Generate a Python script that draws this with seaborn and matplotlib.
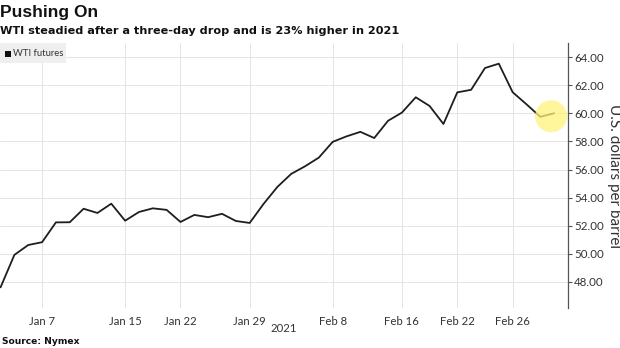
import matplotlib
matplotlib.use("Agg")
import matplotlib.pyplot as plt
import seaborn as sns
import pandas as pd
from matplotlib.patches import Circle, Rectangle

dates = ["Jan 4", "Jan 5", "Jan 6", "Jan 7", "Jan 8", "Jan 11", "Jan 12", "Jan 13", "Jan 14", "Jan 15",
         "Jan 19", "Jan 20", "Jan 21", "Jan 22", "Jan 25", "Jan 26", "Jan 27", "Jan 28", "Jan 29",
         "Feb 1", "Feb 2", "Feb 3", "Feb 4", "Feb 5", "Feb 8", "Feb 9", "Feb 10", "Feb 11", "Feb 12",
         "Feb 16", "Feb 17", "Feb 18", "Feb 19", "Feb 22", "Feb 23", "Feb 24", "Feb 25", "Feb 26",
         "Mar 1", "Mar 2", "Mar 3"]
wti = [47.62, 49.93, 50.63, 50.83, 52.24, 52.25, 53.21, 52.91, 53.57, 52.36,
       52.98, 53.24, 53.13, 52.27, 52.77, 52.61, 52.85, 52.34, 52.20,
       53.55, 54.76, 55.69, 56.23, 56.85, 57.97, 58.36, 58.68, 58.24, 59.47,
       60.05, 61.14, 60.52, 59.24, 61.49, 61.67, 63.22, 63.53, 61.50,
       60.64, 59.75, 60.00]
x_tick_labels = ["Jan 7", "Jan 15", "Jan 22", "Jan 29", "Feb 8", "Feb 16", "Feb 22", "Feb 26"]
y_ticks = [48, 50, 52, 54, 56, 58, 60, 62, 64]

df = pd.DataFrame({"idx": range(len(dates)), "date": dates, "wti": wti})

sns.set_theme(style="white")
plt.rcParams["font.family"] = ["Lato", "DejaVu Sans"]

fig = plt.figure(figsize=(6.2, 3.48), dpi=100)
ax = fig.add_axes([0.0, 1 - 308 / 348, 568 / 620, (308 - 43) / 348])

sns.lineplot(data=df, x="idx", y="wti", ax=ax, color="#1e1e1e", linewidth=1.3)

ax.set_xlim(-0.04, 41.0)
ax.set_ylim(46.15, 65.0)

tick_pos = [dates.index(d) for d in x_tick_labels]
ax.set_xticks(tick_pos)
ax.set_xticklabels(x_tick_labels, fontsize=8.2, color="#333333")
ax.set_yticks(y_ticks)
ax.set_yticklabels([f"{v:.2f}" for v in y_ticks], fontsize=8.3, color="#333333")
ax.yaxis.tick_right()
ax.yaxis.set_label_position("right")
ax.tick_params(axis="y", direction="out", length=3, width=0.8, color="#555555", pad=1.5, right=True)
ax.tick_params(axis="x", length=0, pad=6)

ax.grid(True, color="#e4e4e4", linewidth=0.7)
ax.set_axisbelow(True)
for s in ["top", "left", "bottom"]:
    ax.spines[s].set_visible(False)
ax.spines["right"].set_color("#555555")
ax.spines["right"].set_linewidth(0.9)

ax.set_xlabel("")
ax.set_ylabel("U.S. dollars per barrel", fontsize=11, color="#333333", rotation=270, labelpad=12)

# highlight last point
last_i = len(wti) - 1
circ = Circle((0, 0), 16, transform=None, facecolor="#fff27a", alpha=0.75, edgecolor="none", zorder=3)
xy = ax.transData.transform((last_i, wti[-1]))
circ.center = (xy[0] - 3, xy[1] - 3)
fig.patches.append(circ)

# legend box
fig.patches.append(Rectangle((0, 1 - 63 / 348), 66 / 620, 20 / 348, transform=fig.transFigure,
                             facecolor="#efefef", edgecolor="none", zorder=2))
fig.patches.append(Rectangle((5 / 620, 1 - 56.5 / 348), 5.5 / 620, 5.5 / 348, transform=fig.transFigure,
                             facecolor="#111111", edgecolor="none", zorder=3))
fig.text(13 / 620, 1 - 53 / 348, "WTI futures", fontsize=6.8, color="#333333", va="center", ha="left")

# year label
fig.text(284 / 620, 1 - 329 / 348, "2021", fontsize=8.2, color="#333333", ha="center", va="center")

fig.text(0.0, 1 - 13 / 348, "Pushing On", fontsize=12.5, fontweight="bold", color="#111111",
         ha="left", va="center", family=["Liberation Sans", "DejaVu Sans"])
fig.text(0.0, 1 - 31 / 348, "WTI steadied after a three-day drop and is 23% higher in 2021", fontsize=8.1,
         fontweight="bold", color="#111111", ha="left", va="center", family=["DejaVu Sans"])
fig.text(0.003, 1 - 342 / 348, "Source: Nymex", fontsize=6.6, fontweight="bold", color="#111111",
         ha="left", va="center", family=["DejaVu Sans"])

fig.savefig("out.png", dpi=100)
